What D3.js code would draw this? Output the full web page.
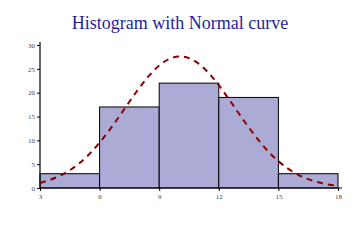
<!DOCTYPE html>
<html>
<head>
<meta charset="utf-8">
<script src="https://cdn.jsdelivr.net/npm/d3@7"></script>
<style>
  body { margin: 0; background: #fff; }
  svg { display: block; }
</style>
</head>
<body>
<div id="chart"></div>
<script>
// histogram bins (edges) and counts
const binEdges = [3, 6, 9, 12, 15, 18]
const binCounts = [3, 17, 22, 19, 3]

// normal curve
const curveX = [3, 3.5, 4, 4.5, 5, 5.5, 6, 6.5, 7, 7.5, 8, 8.5, 9, 9.5, 10, 10.5,
  11, 11.5, 12, 12.5, 13, 13.5, 14, 14.5, 15, 15.5, 16, 16.5, 17, 17.5, 18]
const curveY = [1.06, 1.66, 2.51, 3.67, 5.2, 7.13, 9.45, 12.14, 15.07, 18.11, 21.06,
  23.7, 25.81, 27.2, 27.75, 27.38, 26.15, 24.17, 21.62, 18.71, 15.67, 12.71, 9.97,
  7.56, 5.56, 3.95, 2.72, 1.81, 1.17, 0.73, 0.44]

const xTicks = [3, 6, 9, 12, 15, 18]
const yTicks = [0, 5, 10, 15, 20, 25, 30]

const width = 360
const height = 240
const margin = { top: 45, right: 22, bottom: 52, left: 40 }

const svg = d3.select("#chart").append("svg")
  .attr("width", width)
  .attr("height", height)

// 标题
svg.append("text")
  .text("Histogram with Normal curve")
  .attr("x", 180)
  .attr("y", 29)
  .attr("text-anchor", "middle")
  .style("font-family", "'Liberation Serif', 'DejaVu Serif', serif")
  .style("font-size", "18px")
  .attr("fill", "#1f1f9c")

const x = d3.scaleLinear().domain([3, 18]).range([margin.left, width - margin.right])
const y = d3.scaleLinear().domain([0, 30]).range([height - margin.bottom, margin.top])

// bars
const bins = binCounts.map((c, i) => ({ x0: binEdges[i], x1: binEdges[i + 1], n: c }))
svg.selectAll(".bar")
  .data(bins)
  .enter()
  .append("rect")
  .attr("class", "bar")
  .attr("x", d => x(d.x0))
  .attr("y", d => y(d.n))
  .attr("width", d => x(d.x1) - x(d.x0))
  .attr("height", d => y(0) - y(d.n))
  .attr("fill", "#ababd5")
  .attr("stroke", "#000")
  .attr("stroke-width", 1)

// axes
const xAxis = svg.append("g")
  .attr("transform", `translate(0,${y(0)})`)
  .call(d3.axisBottom(x).tickValues(xTicks).tickSize(3).tickSizeOuter(0))
const yAxis = svg.append("g")
  .attr("transform", `translate(${x(3)},0)`)
  .call(d3.axisLeft(y).tickValues(yTicks).tickSize(3).tickSizeOuter(0))

xAxis.select(".domain").attr("d", `M${x(3)},0H${x(18) + 4}`)
yAxis.select(".domain").attr("d", `M0,${y(0)}V${y(30) - 3}`)

svg.selectAll(".domain").attr("stroke", "#000").attr("stroke-width", 1.2)
svg.selectAll(".tick line").attr("stroke", "#000")
svg.selectAll(".tick text")
  .style("font-family", "'Liberation Serif', serif")
  .style("font-size", "7px")
  .attr("fill", "#444")
yAxis.selectAll(".tick text").attr("x", -5)
xAxis.selectAll(".tick text").attr("y", 6)

// normal curve
const line = d3.line()
  .x((d, i) => x(curveX[i]))
  .y(d => y(d))
  .curve(d3.curveBasis)
svg.append("path")
  .attr("d", line(curveY))
  .attr("fill", "none")
  .attr("stroke", "#8b0000")
  .attr("stroke-width", 2)
  .attr("stroke-dasharray", "6,5")
</script>
</body>
</html>
